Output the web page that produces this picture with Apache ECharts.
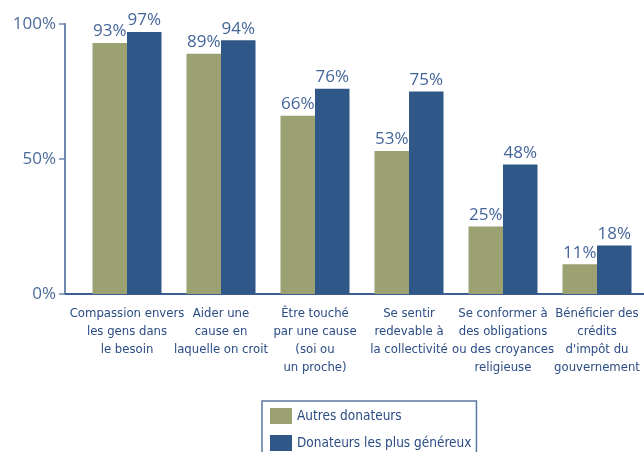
<!DOCTYPE html>
<html>
<head>
<meta charset="utf-8">
<script src="https://cdn.jsdelivr.net/npm/echarts@6/dist/echarts.min.js"></script>
<style>html,body{margin:0;padding:0;background:#fff}#c{width:644px;height:452px}</style>
</head>
<body>
<div id="c"></div>
<script>
const categories = [
  "Compassion envers\nles gens dans\nle besoin",
  "Aider une\ncause en\nlaquelle on croit",
  "Être touché\npar une cause\n(soi ou\nun proche)",
  "Se sentir\nredevable à\nla collectivité",
  "Se conformer à\ndes obligations\nou des croyances\nreligieuse",
  "Bénéficier des\ncrédits\nd'impôt du\ngouvernement"
];
const seriesNames = ["Autres donateurs", "Donateurs les plus généreux"];
const autres = [93, 89, 66, 53, 25, 11];
const genereux = [97, 94, 76, 75, 48, 18];
const yTicks = [0, 50, 100];

const green = "#9ca172";
const blue = "#2f5888";
const narrow = "'Liberation Sans Narrow', 'DejaVu Sans Condensed', sans-serif";
const valueLabel = {
  show: true, position: "top", distance: 3,
  formatter: p => p.value + "%",
  color: "#44659a", fontFamily: "Open Sans", fontSize: 17
};

const chart = echarts.init(document.getElementById("c"), null, {renderer: "canvas"});
chart.setOption({
  animation: false,
  backgroundColor: "#fff",
  grid: [
    {left: 80, width: 571, top: 24, bottom: 158},
    {left: 65, right: 0, top: 24, bottom: 158}
  ],
  xAxis: [
    {
      type: "category", gridIndex: 0, data: categories,
      axisLine: {show: false}, axisTick: {show: false},
      axisLabel: {
        interval: 0, margin: 11, color: "#2b4c84",
        fontFamily: narrow, fontSize: 13, lineHeight: 18
      }
    },
    {
      type: "value", gridIndex: 1, min: 0, max: 1,
      axisLine: {show: true, lineStyle: {color: "#3d5e8e", width: 2}},
      axisTick: {show: false}, axisLabel: {show: false}, splitLine: {show: false}
    }
  ],
  yAxis: [
    {
      type: "value", gridIndex: 0, min: 0, max: 100,
      show: false, splitLine: {show: false}
    },
    {
      type: "value", gridIndex: 1, min: yTicks[0], max: yTicks[yTicks.length - 1],
      interval: yTicks[1] - yTicks[0],
      axisLine: {show: true, lineStyle: {color: "#6f88b0", width: 2}},
      axisTick: {show: true, length: 6, lineStyle: {color: "#6f88b0", width: 1.5}},
      axisLabel: {
        margin: 9, color: "#4d6b9a", fontFamily: "Open Sans", fontSize: 17,
        formatter: v => v + "%"
      },
      splitLine: {show: false}
    }
  ],
  legend: {
    orient: "vertical", left: 262, top: 401, height: 120,
    itemWidth: 22, itemHeight: 16, itemGap: 11,
    padding: [7, 5, 7, 8],
    borderColor: "#5b77a2", borderWidth: 1.5,
    icon: "rect",
    textStyle: {color: "#2b4c84", fontFamily: narrow, fontSize: 13.5},
    data: seriesNames
  },
  series: [
    {
      name: seriesNames[0], type: "bar", xAxisIndex: 0, yAxisIndex: 0,
      data: autres, barWidth: 34.5, barGap: "0%",
      itemStyle: {color: green}, label: valueLabel
    },
    {
      name: seriesNames[1], type: "bar", xAxisIndex: 0, yAxisIndex: 0,
      data: genereux, barWidth: 34.5, barGap: "0%",
      itemStyle: {color: blue}, label: valueLabel
    }
  ]
});
</script>
</body>
</html>
